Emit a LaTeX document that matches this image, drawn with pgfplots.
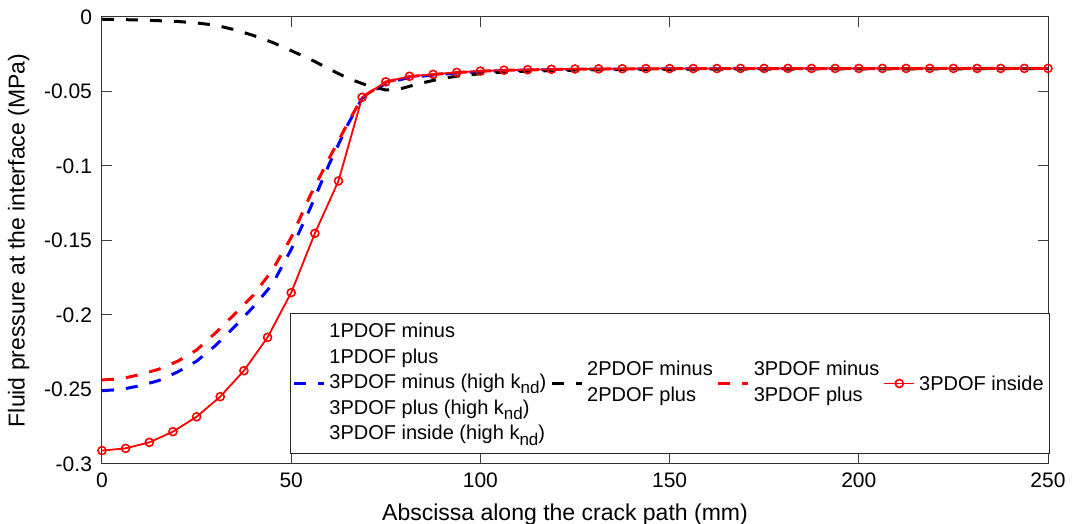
\documentclass[border=0pt]{standalone}
\usepackage{fontspec}
\setmainfont{Liberation Sans}
\usepackage{pgfplots}
\pgfplotsset{compat=1.18}
\newcommand{\nd}{\raisebox{-0.5ex}{\fontsize{8.5}{9}\selectfont nd}}
\pgfplotsset{
  dashlegend/.style={legend image code/.code={\draw[##1] (0pt,0pt) -- (15pt,0pt);}},
  marklegend/.style={legend image code/.code={\draw[##1, mark repeat=2, mark phase=2] plot coordinates {(0pt,0pt) (7.5pt,0pt) (15pt,0pt)};}},
}

\pgfplotstableread{
x y
0 -0.2508
5 -0.2500
10 -0.2475
15 -0.2440
20 -0.2382
25 -0.2310
30 -0.2205
35 -0.2080
40 -0.1945
45 -0.1795
50 -0.1560
55 -0.1285
60 -0.0990
65 -0.0720
68.75 -0.0545
75 -0.0445
81.25 -0.0405
87.5 -0.0390
93.75 -0.0376
100 -0.0366
106.25 -0.0360
112.5 -0.0356
125 -0.0351
150 -0.0348
200 -0.0346
250 -0.0346
}\bluedata

\pgfplotstableread{
x y
0 -0.0015
10 -0.0020
20 -0.0030
25 -0.0040
30 -0.0055
35 -0.0085
40 -0.0124
45 -0.0170
50 -0.0226
55 -0.0283
60 -0.0348
65 -0.0412
70 -0.0458
75 -0.0490
78 -0.0488
81 -0.0467
85 -0.0440
90 -0.0412
95 -0.0393
100 -0.0381
105 -0.0372
110 -0.0366
120 -0.0359
130 -0.0355
150 -0.0351
200 -0.0348
250 -0.0347
}\blackdata

\pgfplotstableread{
x y
0 -0.2436
5 -0.2428
10 -0.2400
15 -0.2364
20 -0.2310
25 -0.2235
30 -0.2120
35 -0.1995
40 -0.1866
45 -0.1700
50 -0.1480
55 -0.1200
60 -0.0950
65 -0.0710
68.75 -0.0539
75 -0.0437
81.25 -0.0400
87.5 -0.0386
93.75 -0.0373
100 -0.0364
106.25 -0.0358
112.5 -0.0355
125 -0.0350
150 -0.0347
200 -0.0346
250 -0.0345
}\reddashdata

\pgfplotstableread{
x y
0 -0.2910
6.25 -0.2895
12.5 -0.2855
18.75 -0.2783
25 -0.2683
31.25 -0.2548
37.5 -0.2374
43.75 -0.2150
50 -0.1850
56.25 -0.1452
62.5 -0.1100
68.75 -0.0539
75 -0.0435
81.25 -0.0398
87.5 -0.0385
93.75 -0.0372
100 -0.0363
106.25 -0.0357
112.5 -0.0354
118.75 -0.0351
125 -0.0349
131.25 -0.0348
137.5 -0.0347
143.75 -0.0346
150 -0.0346
156.25 -0.0346
162.5 -0.0346
168.75 -0.0345
175 -0.0345
181.25 -0.0345
187.5 -0.0345
193.75 -0.0345
200 -0.0345
206.25 -0.0345
212.5 -0.0345
218.75 -0.0345
225 -0.0345
231.25 -0.0345
237.5 -0.0345
243.75 -0.0345
250 -0.0345
}\reddata

\begin{document}
\begin{tikzpicture}
\begin{axis}[
  scale only axis,
  width=473pt, height=223.5pt,
  xmin=0, xmax=250, ymin=-0.3, ymax=0,
  xtick={0,50,100,150,200,250},
  ytick={-0.3,-0.25,-0.2,-0.15,-0.1,-0.05,0},
  yticklabels={-0.3,-0.25,-0.2,-0.15,-0.1,-0.05,0},
  tick align=inside,
  major tick length=5pt,
  tick style={black!75, line width=0.5pt},
  axis line style={black!80, line width=0.5pt},
  /pgf/number format/assume math mode=true,
  tick label style={font=\fontsize{10.5}{12}\selectfont, text=black},
  xticklabel style={yshift=-1pt},
  yticklabel style={xshift=-1.5pt},
  xlabel={Abscissa along the crack path (mm)},
  ylabel={Fluid pressure at the interface (MPa)},
  xlabel style={font=\fontsize{11.5}{13}\selectfont, yshift=-1pt, xshift=-5pt},
  ylabel style={font=\fontsize{11.5}{13}\selectfont, yshift=0.5pt},
  clip=false,
  legend columns=4,
  legend style={
    at={(0.1987,0.3378)}, anchor=north west,
    draw=black!85, line width=0.5pt, fill=white,
    font=\fontsize{10}{12.8}\selectfont,
    inner sep=1pt,
    /tikz/every even column/.append style={column sep=0pt},
    nodes={inner sep=2pt, text depth={}, text height={}},
  },
  dashlegend,
]
\addplot[blue, line width=1.5pt, dash pattern=on 6pt off 6pt] table[x=x,y=y] {\bluedata};
\addlegendentry{\begin{tabular}[c]{@{}l@{}}1PDOF minus\\1PDOF plus\\3PDOF minus (high k\nd)\\3PDOF plus (high k\nd)\\3PDOF inside (high k\nd)\end{tabular}}
\addplot[black, line width=1.5pt, dash pattern=on 6pt off 6pt] table[x=x,y=y] {\blackdata};
\addlegendentry{\begin{tabular}[c]{@{}l@{}}2PDOF minus\\2PDOF plus\end{tabular}}
\addplot[red, line width=1.5pt, dash pattern=on 6pt off 6pt] table[x=x,y=y] {\reddashdata};
\addlegendentry{\begin{tabular}[c]{@{}l@{}}3PDOF minus\\3PDOF plus\end{tabular}}
\addplot[red, line width=0.9pt, mark=o, mark size=2pt, mark options={solid, line width=0.8pt}, marklegend]
  table[x=x,y=y] {\reddata};
\addlegendentry{3PDOF inside}
\coordinate (bbSW) at (rel axis cs:0,0);
\coordinate (bbNE) at (rel axis cs:1,1);
\end{axis}
\pgfresetboundingbox
\path ([shift={(-51pt,-30pt)}]bbSW) rectangle ([shift={(12.5pt,8.5pt)}]bbNE);
\end{tikzpicture}
\end{document}
